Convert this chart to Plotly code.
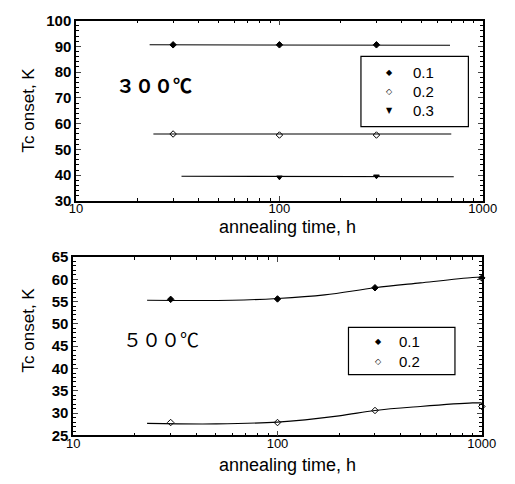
import plotly.graph_objects as go

# ---------------- data ----------------
# 300 C panel: measured points
t300_01 = [30, 100, 300]
tc300_01 = [90.6, 90.6, 90.6]
t300_02 = [30, 100, 300]
tc300_02 = [56.0, 55.6, 55.6]
t300_03 = [100, 300]
tc300_03 = [39.2, 39.6]
# 300 C panel: fitted lines
fit300_01_t = [23, 690]
fit300_01_y = [90.6, 90.4]
fit300_02_t = [24, 700]
fit300_02_y = [56.0, 56.0]
fit300_03_t = [33, 720]
fit300_03_y = [39.6, 39.4]

# 500 C panel: measured points
t500_01 = [30, 100, 300, 1000]
tc500_01 = [55.5, 55.6, 58.1, 60.3]
t500_02 = [30, 100, 300, 1000]
tc500_02 = [27.9, 27.9, 30.6, 31.5]
# 500 C panel: smooth curves
fit500_01_t = [23, 60, 100, 170, 300, 500, 900, 1000]
fit500_01_y = [55.3, 55.3, 55.7, 56.5, 58.1, 59.2, 60.4, 60.5]
fit500_02_t = [23, 50, 100, 200, 300, 500, 900, 1000]
fit500_02_y = [27.7, 27.6, 28.0, 29.4, 30.6, 31.5, 32.3, 32.3]

legend_top = ["0.1", "0.2", "0.3"]
legend_bot = ["0.1", "0.2"]

xticks = [10, 100, 1000]
xticklabels = ["10", "100", "1000"]
xminor = [20, 30, 40, 50, 60, 70, 80, 90, 200, 300, 400, 500, 600, 700, 800, 900]
yticks_top = [30, 40, 50, 60, 70, 80, 90, 100]
yminor_top = [32, 34, 36, 38, 42, 44, 46, 48, 52, 54, 56, 58, 62, 64, 66, 68,
              72, 74, 76, 78, 82, 84, 86, 88, 92, 94, 96, 98]
yticks_bot = [25, 30, 35, 40, 45, 50, 55, 60, 65]
yminor_bot = [26, 27, 28, 29, 31, 32, 33, 34, 36, 37, 38, 39, 41, 42, 43, 44,
              46, 47, 48, 49, 51, 52, 53, 54, 56, 57, 58, 59, 61, 62, 63, 64]

fig = go.Figure()

line_style = dict(color="black", width=1.1)

def add_line(x, y, xa, ya, shape="linear"):
    fig.add_trace(go.Scatter(x=x, y=y, mode="lines", line=dict(shape=shape, **line_style),
                             xaxis=xa, yaxis=ya, showlegend=False, hoverinfo="skip"))

def add_pts(x, y, xa, ya, name, symbol):
    fig.add_trace(go.Scatter(x=x, y=y, mode="markers", name=name, showlegend=False,
                             cliponaxis=False,
                             marker=dict(symbol=symbol, size=5, color="black",
                                         line=dict(color="black", width=1)),
                             xaxis=xa, yaxis=ya))

add_line(fit300_01_t, fit300_01_y, "x", "y")
add_line(fit300_02_t, fit300_02_y, "x", "y")
add_line(fit300_03_t, fit300_03_y, "x", "y")
add_pts(t300_01, tc300_01, "x", "y", legend_top[0], "diamond")
add_pts(t300_02, tc300_02, "x", "y", legend_top[1], "diamond-open")
add_pts(t300_03, tc300_03, "x", "y", legend_top[2], "triangle-down")

add_line(fit500_01_t, fit500_01_y, "x2", "y2", "spline")
add_line(fit500_02_t, fit500_02_y, "x2", "y2", "spline")
add_pts(t500_01, tc500_01, "x2", "y2", legend_bot[0], "diamond")
add_pts(t500_02, tc500_02, "x2", "y2", legend_bot[1], "diamond-open")

W, H = 515, 484
FONT = "Liberation Sans, Arial"
xtitle_font = dict(family=FONT, size=18, color="black")
ytitle_font = dict(family=FONT, size=17, color="black")
tickfont_x = dict(family=FONT, size=13, color="black")
tickfont_y = dict(family=FONT, size=15, color="black", weight="bold")
minor_tick = dict(ticks="inside", ticklen=3, tickcolor="black", showgrid=False)

common_x = dict(type="log", range=[1, 3], tickvals=xticks, ticktext=xticklabels,
                ticks="inside", ticklen=5, mirror="allticks", showline=True,
                linecolor="black", linewidth=1.5, showgrid=False, zeroline=False,
                tickfont=tickfont_x, ticklabelstandoff=-5,
                minor=dict(tickvals=xminor, **minor_tick))
common_y = dict(ticks="inside", ticklen=5, mirror="allticks", showline=True,
                linecolor="black", linewidth=1.5, showgrid=False, zeroline=False,
                tickfont=tickfont_y)

legend_font = dict(family=FONT, size=15, color="black")

def px(x):
    return x / W

def py(y):
    return 1 - y / H

annotations = [
    dict(text="３００℃", x=px(112), y=py(78), xanchor="left", yanchor="middle",
         font=dict(family="Noto Sans CJK JP", size=19, color="black", weight="bold")),
    dict(text="５００℃", x=px(119), y=py(342), xanchor="left", yanchor="middle",
         font=dict(family="Noto Sans CJK JP", size=19, color="black")),
    dict(text="annealing time, h", x=px(292), y=py(226), xanchor="center", yanchor="middle",
         font=xtitle_font),
    dict(text="annealing time, h", x=px(292), y=py(473), xanchor="center", yanchor="middle",
         font=xtitle_font),
    dict(text="Tc onset, K", x=px(22), y=py(105), xanchor="center", yanchor="middle",
         textangle=-90, font=ytitle_font),
    dict(text="Tc onset, K", x=px(22), y=py(333), xanchor="center", yanchor="middle",
         textangle=-90, font=ytitle_font),
]

# manual legends (key glyph + label)
glyphs = ["◆", "◇", "▼"]
for i, lab in enumerate(legend_top):
    yy = 66 + i * 19.5
    annotations.append(dict(text=glyphs[i], x=px(399), y=py(yy), xanchor="center",
                            yanchor="middle", font=dict(family="DejaVu Sans", size=8, color="black")))
    annotations.append(dict(text=lab, x=px(421), y=py(yy), xanchor="left",
                            yanchor="middle", font=legend_font))
for i, lab in enumerate(legend_bot):
    yy = 345 + i * 20.5
    annotations.append(dict(text=glyphs[i], x=px(387), y=py(yy), xanchor="center",
                            yanchor="middle", font=dict(family="DejaVu Sans", size=8, color="black")))
    annotations.append(dict(text=lab, x=px(407), y=py(yy), xanchor="left",
                            yanchor="middle", font=legend_font))

for a in annotations:
    a.update(xref="paper", yref="paper", showarrow=False)

fig.update_layout(
    width=W, height=H, margin=dict(l=0, r=0, t=0, b=0),
    paper_bgcolor="white", plot_bgcolor="white", showlegend=False,
    xaxis=dict(domain=[px(72), px(496)], anchor="y", **common_x),
    yaxis=dict(domain=[py(199), py(12)], anchor="x", range=[30, 100],
               tickvals=yticks_top, minor=dict(tickvals=yminor_top, **minor_tick), **common_y),
    xaxis2=dict(domain=[px(69), px(495)], anchor="y2", **common_x),
    yaxis2=dict(domain=[py(442), py(257)], anchor="x2", range=[25, 65],
                tickvals=yticks_bot, minor=dict(tickvals=yminor_bot, **minor_tick), **common_y),
    shapes=[
        dict(type="rect", xref="paper", yref="paper", x0=px(369), x1=px(481),
             y0=py(122), y1=py(49), line=dict(color="black", width=1.2)),
        dict(type="rect", xref="paper", yref="paper", x0=px(356), x1=px(467),
             y0=py(379), y1=py(330), line=dict(color="black", width=1.2)),
    ],
    annotations=annotations,
)

fig.write_html("out.html", config={"displayModeBar": False},
               post_script="document.body.style.margin='0';")
